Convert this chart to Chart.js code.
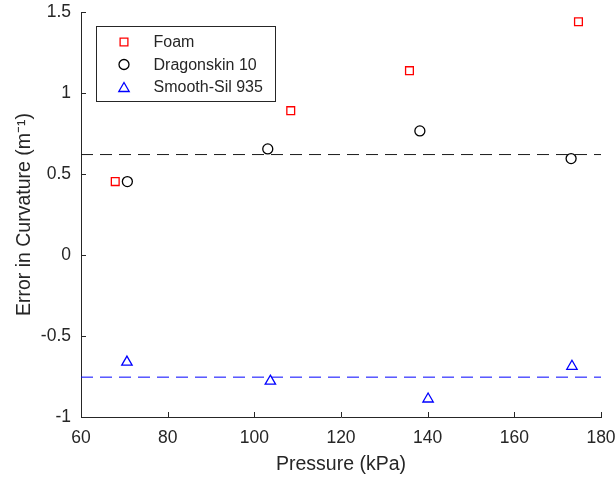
<!DOCTYPE html>
<html lang="en">
<head>
    <meta charset="UTF-8">
    <title>Error in Curvature vs Pressure</title>
    <script src="https://cdn.jsdelivr.net/npm/chart.js"></script>
    <style>
        html, body { margin: 0; padding: 0; background: #fff; }
        #wrap { width: 616px; height: 481px; position: relative; }
    </style>
</head>
<body>
    <div id="wrap"><canvas id="curvChart"></canvas></div>
    <script>
        // values
        const foamPressure = [67.9, 108.4, 135.8, 174.8];
        const foamError = [0.453, 0.891, 1.138, 1.44];
        const dragonPressure = [70.7, 103.1, 138.2, 173.1];
        const dragonError = [0.453, 0.655, 0.766, 0.595];
        const smoothPressure = [70.6, 103.7, 140.1, 173.3];
        const smoothError = [-0.661, -0.779, -0.889, -0.687];
        const lineRange = [60, 180];
        const dragonMean = 0.62;
        const smoothMean = -0.754;
        const xTicks = [60, 80, 100, 120, 140, 160, 180];
        const yTicks = [-1, -0.5, 0, 0.5, 1, 1.5];

        const axisColor = '#262626';
        const fontFamily = "'Liberation Sans', Arial, Helvetica, sans-serif";

        function pts(xs, ys) {
            return xs.map((x, i) => ({x: x, y: ys[i]}));
        }

        // MATLAB style ticks pointing into the plot
        const innerTicks = {
            id: 'innerTicks',
            afterDatasetsDraw(chart) {
                const {ctx, chartArea: ca, scales: {x, y}} = chart;
                ctx.save();
                ctx.strokeStyle = axisColor;
                ctx.lineWidth = 1;
                ctx.beginPath();
                xTicks.forEach(v => {
                    const px = Math.round(x.getPixelForValue(v)) + 0.5;
                    ctx.moveTo(px, ca.bottom);
                    ctx.lineTo(px, ca.bottom - 5);
                });
                yTicks.forEach(v => {
                    const py = Math.round(y.getPixelForValue(v)) + 0.5;
                    ctx.moveTo(ca.left, py);
                    ctx.lineTo(ca.left + 5, py);
                });
                ctx.stroke();
                ctx.restore();
            }
        };

        function drawMarker(ctx, style, cx, cy, r) {
            ctx.beginPath();
            if (style === 'rect') {
                const s = r * Math.SQRT1_2;
                ctx.rect(cx - s, cy - s, 2 * s, 2 * s);
            } else if (style === 'triangle') {
                ctx.moveTo(cx, cy - r);
                ctx.lineTo(cx + r * Math.sin(Math.PI / 3), cy + r / 2);
                ctx.lineTo(cx - r * Math.sin(Math.PI / 3), cy + r / 2);
                ctx.closePath();
            } else {
                ctx.arc(cx, cy, r, 0, Math.PI * 2);
            }
            ctx.stroke();
        }

        // legend box inside the axes, top left
        const insideLegend = {
            id: 'insideLegend',
            afterDraw(chart) {
                const {ctx, chartArea: ca} = chart;
                const bx = Math.round(ca.left + 15) + 0.5;
                const by = Math.round(ca.top + 14) + 0.5;
                const bw = 179, bh = 75;
                ctx.save();
                ctx.fillStyle = '#fff';
                ctx.fillRect(bx, by, bw, bh);
                ctx.strokeStyle = axisColor;
                ctx.lineWidth = 1;
                ctx.strokeRect(bx, by, bw, bh);
                ctx.font = '16px ' + fontFamily;
                ctx.textBaseline = 'middle';
                ctx.textAlign = 'left';
                let row = 0;
                chart.data.datasets.forEach(ds => {
                    if (!ds.inLegend) return;
                    const cy = by + 15.5 + row * 22.5;
                    ctx.strokeStyle = ds.borderColor;
                    ctx.lineWidth = ds.pointBorderWidth;
                    let off = ds.pointStyle === 'triangle' ? 1.5 : 0;
                    drawMarker(ctx, ds.pointStyle, bx + 27.5, cy + off, ds.pointRadius);
                    ctx.fillStyle = axisColor;
                    ctx.fillText(ds.label, bx + 57, cy + 1);
                    row++;
                });
                ctx.restore();
            }
        };

        const ctx = document.getElementById('curvChart').getContext('2d');
        new Chart(ctx, {
            type: 'scatter',
            data: {
                datasets: [
                    {
                        label: 'mean Dragonskin',
                        type: 'line',
                        data: pts(lineRange, [dragonMean, dragonMean]),
                        borderColor: '#1a1a1a',
                        borderWidth: 1,
                        borderDash: [12, 7],
                        pointRadius: 0,
                        fill: false
                    },
                    {
                        label: 'mean Smooth-Sil',
                        type: 'line',
                        data: pts(lineRange, [smoothMean, smoothMean]),
                        borderColor: '#0000ff',
                        borderWidth: 1,
                        borderDash: [12, 7],
                        pointRadius: 0,
                        fill: false
                    },
                    {
                        label: 'Foam',
                        inLegend: true,
                        data: pts(foamPressure, foamError),
                        pointStyle: 'rect',
                        pointRadius: 5.5,
                        pointBorderWidth: 1.3,
                        borderColor: '#ff0000',
                        backgroundColor: 'rgba(0,0,0,0)'
                    },
                    {
                        label: 'Dragonskin 10',
                        inLegend: true,
                        data: pts(dragonPressure, dragonError),
                        pointStyle: 'circle',
                        pointRadius: 5,
                        pointBorderWidth: 1.3,
                        borderColor: '#000000',
                        backgroundColor: 'rgba(0,0,0,0)'
                    },
                    {
                        label: 'Smooth-Sil 935',
                        inLegend: true,
                        data: pts(smoothPressure, smoothError),
                        pointStyle: 'triangle',
                        pointRadius: 6,
                        pointBorderWidth: 1.3,
                        borderColor: '#0000ff',
                        backgroundColor: 'rgba(0,0,0,0)'
                    }
                ]
            },
            options: {
                responsive: true,
                maintainAspectRatio: false,
                animation: false,
                layout: { padding: { left: 0, right: 15, top: 12, bottom: 0 } },
                plugins: {
                    legend: { display: false },
                    tooltip: { enabled: false }
                },
                scales: {
                    x: {
                        type: 'linear',
                        min: 60,
                        max: 180,
                        afterBuildTicks: s => { s.ticks = xTicks.map(v => ({value: v})); },
                        afterFit: s => { s.height = 64; s.paddingLeft = 0; s.paddingRight = 0; },
                        grid: { display: false, drawTicks: false },
                        border: { display: true, color: axisColor, width: 1 },
                        ticks: {
                            padding: 11,
                            color: axisColor,
                            font: { family: fontFamily, size: 17.5 },
                            callback: v => String(v)
                        },
                        title: {
                            display: true,
                            text: 'Pressure (kPa)',
                            color: axisColor,
                            font: { family: fontFamily, size: 19.5 },
                            padding: { top: 5, bottom: 5 }
                        }
                    },
                    y: {
                        type: 'linear',
                        min: -1,
                        max: 1.5,
                        afterBuildTicks: s => { s.ticks = yTicks.map(v => ({value: v})); },
                        afterFit: s => { s.width = 81; s.paddingTop = 0; s.paddingBottom = 0; },
                        grid: { display: false, drawTicks: false },
                        border: { display: true, color: axisColor, width: 1 },
                        ticks: {
                            padding: 10,
                            color: axisColor,
                            font: { family: fontFamily, size: 17.5 },
                            callback: v => String(v)
                        },
                        title: {
                            display: true,
                            text: 'Error in Curvature (m⁻¹)',
                            color: axisColor,
                            font: { family: fontFamily, size: 19.5 },
                            padding: { top: 13, bottom: 13 }
                        }
                    }
                }
            },
            plugins: [innerTicks, insideLegend]
        });
    </script>
</body>
</html>
